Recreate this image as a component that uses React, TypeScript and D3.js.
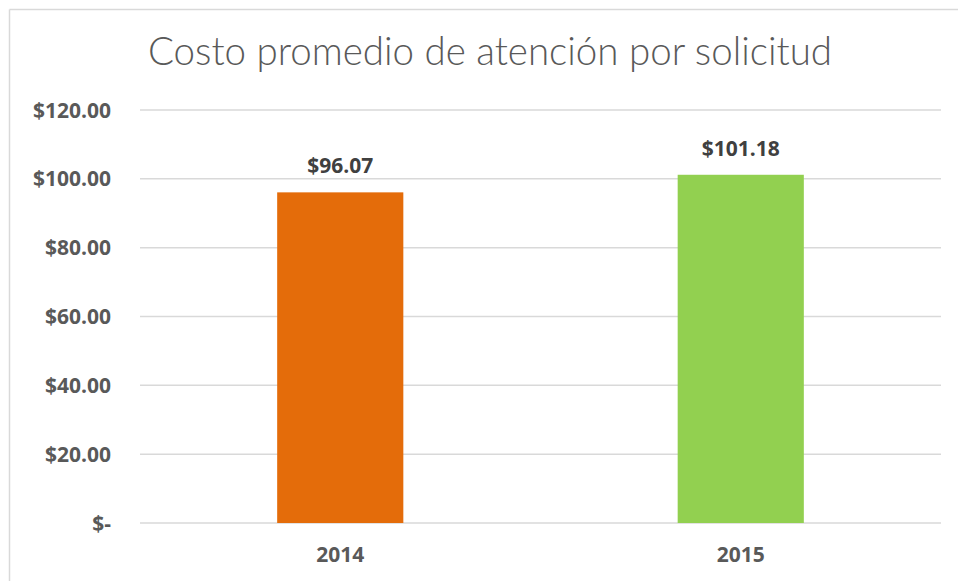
import React from "react";
import * as d3 from "d3";

const categories = ["2014", "2015"];
const values = [96.07, 101.18];
const barColors = ["#E46C0A", "#92D050"];
const yTicks = [0, 20, 40, 60, 80, 100, 120];
const valueLabels = ["$96.07", "$101.18"];
const title = "Costo promedio de atención por solicitud";

const W = 958;
const H = 581;

function fmtTick(v: number) {
  return v === 0 ? "$-" : "$" + d3.format(".2f")(v);
}

export default function App() {
  const plotLeft = 140;
  const plotRight = 941;
  const y = d3.scaleLinear().domain([0, 120]).range([523, 110]);
  const x = d3
    .scaleBand<string>()
    .domain(categories)
    .range([plotLeft, plotRight])
    .paddingInner(0.685)
    .paddingOuter(0.3425);
  const font = "'Open Sans', 'Liberation Sans', sans-serif";
  return (
    <svg
      width={W}
      height={H}
      style={{ position: "fixed", left: 0, top: 0, background: "#fff" }}
    >
      <rect x={0} y={0} width={W} height={H} fill="#fff" />
      <line x1={9.5} y1={9.5} x2={W} y2={9.5} stroke="#d9d9d9" strokeWidth={1.5} />
      <line x1={9.5} y1={9.5} x2={9.5} y2={H} stroke="#d9d9d9" strokeWidth={1.5} />
      <text
        x={490}
        y={65}
        textAnchor="middle"
        fontFamily="Lato, 'Open Sans', sans-serif"
        fontWeight={300}
        fontSize={38.5}
        fill="#595959"
      >
        {title}
      </text>
      {yTicks.map((t) => (
        <g key={t}>
          <line
            x1={plotLeft}
            x2={plotRight}
            y1={y(t)}
            y2={y(t)}
            stroke="#d9d9d9"
            strokeWidth={1.5}
          />
          <text
            x={111}
            y={y(t) + 7.5}
            textAnchor="end"
            fontFamily={font}
            fontWeight={700}
            fontSize={21}
            fill="#595959"
          >
            {fmtTick(t)}
          </text>
        </g>
      ))}
      {categories.map((c, i) => (
        <g key={c}>
          <rect
            x={x(c)}
            y={y(values[i])}
            width={x.bandwidth()}
            height={y(0) - y(values[i])}
            fill={barColors[i]}
          />
          <text
            x={(x(c) as number) + x.bandwidth() / 2}
            y={y(values[i]) - 19}
            textAnchor="middle"
            fontFamily={font}
            fontWeight={700}
            fontSize={21}
            fill="#404040"
          >
            {valueLabels[i]}
          </text>
          <text
            x={(x(c) as number) + x.bandwidth() / 2}
            y={562}
            textAnchor="middle"
            fontFamily={font}
            fontWeight={700}
            fontSize={21}
            fill="#595959"
          >
            {c}
          </text>
        </g>
      ))}
    </svg>
  );
}
